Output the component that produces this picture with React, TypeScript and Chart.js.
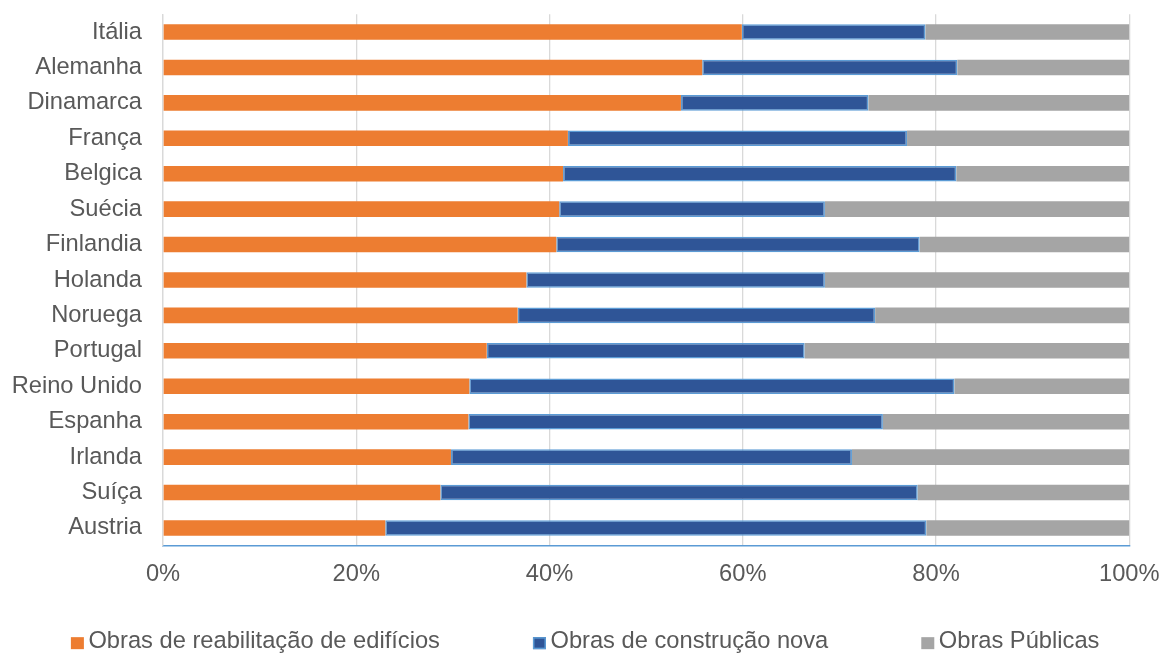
import React, { useEffect, useRef } from "react";
import { Chart, registerables } from "chart.js";

Chart.register(...registerables);

const countries = [
  "Itália", "Alemanha", "Dinamarca", "França", "Belgica", "Suécia", "Finlandia",
  "Holanda", "Noruega", "Portugal", "Reino Unido", "Espanha", "Irlanda", "Suíça", "Austria",
];
const reabilitacao = [59.9, 55.8, 53.6, 41.9, 41.4, 41.0, 40.7, 37.6, 36.7, 33.5, 31.7, 31.6, 29.8, 28.7, 23.0];
const construcaoNova = [19.0, 26.4, 19.4, 35.1, 40.7, 27.5, 37.6, 30.9, 37.0, 32.9, 50.2, 42.9, 41.5, 49.4, 56.0];
const obrasPublicas = [21.1, 17.8, 27.0, 23.0, 17.9, 31.5, 21.7, 31.5, 26.3, 33.6, 18.1, 25.5, 28.7, 21.9, 21.0];
const seriesNames = ["Obras de reabilitação de edifícios", "Obras de construção nova", "Obras Públicas"];
const xTicks = [0, 20, 40, 60, 80, 100];

const FONT = '"Liberation Sans", Arial, sans-serif';
const FONT_SIZE = 23.7;
const TEXT = "#595959";

// Legend drawn below the axis, items spaced like the original (Excel-style) legend.
const bottomLegend = {
  id: "bottomLegend",
  afterDraw(chart: any) {
    const ctx = chart.ctx as CanvasRenderingContext2D;
    const datasets = chart.data.datasets;
    const box = 13;
    const boxH = 12;
    const textGap = 4.5;
    const itemGap = 93;
    ctx.save();
    ctx.font = `${FONT_SIZE}px ${FONT}`;
    const widths = datasets.map((d: any) => ctx.measureText(d.label).width);
    const total =
      widths.reduce((a: number, w: number) => a + box + textGap + w, 0) + itemGap * (datasets.length - 1);
    const centerX = (chart.chartArea.left + chart.chartArea.right) / 2 - 61;
    let x = centerX - total / 2;
    const y = chart.chartArea.bottom + 96;
    ctx.textBaseline = "middle";
    ctx.textAlign = "left";
    datasets.forEach((d: any, i: number) => {
      ctx.fillStyle = d.backgroundColor;
      ctx.fillRect(x, y - boxH / 2 + 1.5, box, boxH);
      if (d.borderWidth) {
        ctx.strokeStyle = d.borderColor;
        ctx.lineWidth = d.borderWidth;
        ctx.strokeRect(x + 0.75, y - boxH / 2 + 2.25, box - 1.5, boxH - 1.5);
      }
      ctx.fillStyle = TEXT;
      ctx.fillText(d.label, x + box + textGap, y);
      x += box + textGap + widths[i] + itemGap;
    });
    ctx.restore();
  },
};

export default function App() {
  const ref = useRef<HTMLCanvasElement | null>(null);

  useEffect(() => {
    document.body.style.margin = "0";
    const canvas = ref.current;
    if (!canvas) return;
    const chart = new Chart(canvas, {
      type: "bar",
      data: {
        labels: countries,
        datasets: [
          {
            label: seriesNames[0],
            data: reabilitacao,
            backgroundColor: "#ED7D31",
            borderWidth: 0,
            barPercentage: 0.44,
            categoryPercentage: 1,
          },
          {
            label: seriesNames[1],
            data: construcaoNova,
            backgroundColor: "#2F5597",
            borderColor: "#5B9BD5",
            borderWidth: 1.5,
            borderSkipped: false,
            barPercentage: 0.44,
            categoryPercentage: 1,
          },
          {
            label: seriesNames[2],
            data: obrasPublicas,
            backgroundColor: "#A5A5A5",
            borderWidth: 0,
            barPercentage: 0.44,
            categoryPercentage: 1,
          },
        ],
      },
      options: {
        indexAxis: "y",
        responsive: false,
        animation: false,
        layout: { padding: { top: 14.3, left: 0, right: 34.7, bottom: 48.9 } },
        scales: {
          x: {
            stacked: true,
            min: 0,
            max: 100,
            afterBuildTicks: (scale: any) => {
              scale.ticks = xTicks.map((v) => ({ value: v }));
            },
            afterFit: (scale: any) => {
              scale.paddingLeft = 0;
              scale.paddingRight = 0;
            },
            ticks: {
              callback: (v: any) => v + "%",
              color: TEXT,
              font: { family: FONT, size: FONT_SIZE },
              padding: 15,
              maxRotation: 0,
              autoSkip: false,
            },
            grid: { color: "#D9D9D9", lineWidth: 1.3, drawTicks: false },
            border: { color: "#5B9BD5", width: 1.5 },
          },
          y: {
            stacked: true,
            afterFit: (scale: any) => {
              scale.width = 163;
              scale.paddingTop = 0;
              scale.paddingBottom = 0;
            },
            ticks: {
              color: TEXT,
              font: { family: FONT, size: FONT_SIZE },
              padding: 21,
              autoSkip: false,
            },
            grid: { display: false, drawTicks: false },
            border: { color: "#D9D9D9", width: 1.3 },
          },
        },
        plugins: {
          legend: { display: false },
          tooltip: { enabled: false },
        },
      },
      plugins: [bottomLegend],
    });
    return () => chart.destroy();
  }, []);

  return (
    <div style={{ width: 1164, height: 653 }}>
      <canvas ref={ref} width={1164} height={653} style={{ display: "block" }} />
    </div>
  );
}
